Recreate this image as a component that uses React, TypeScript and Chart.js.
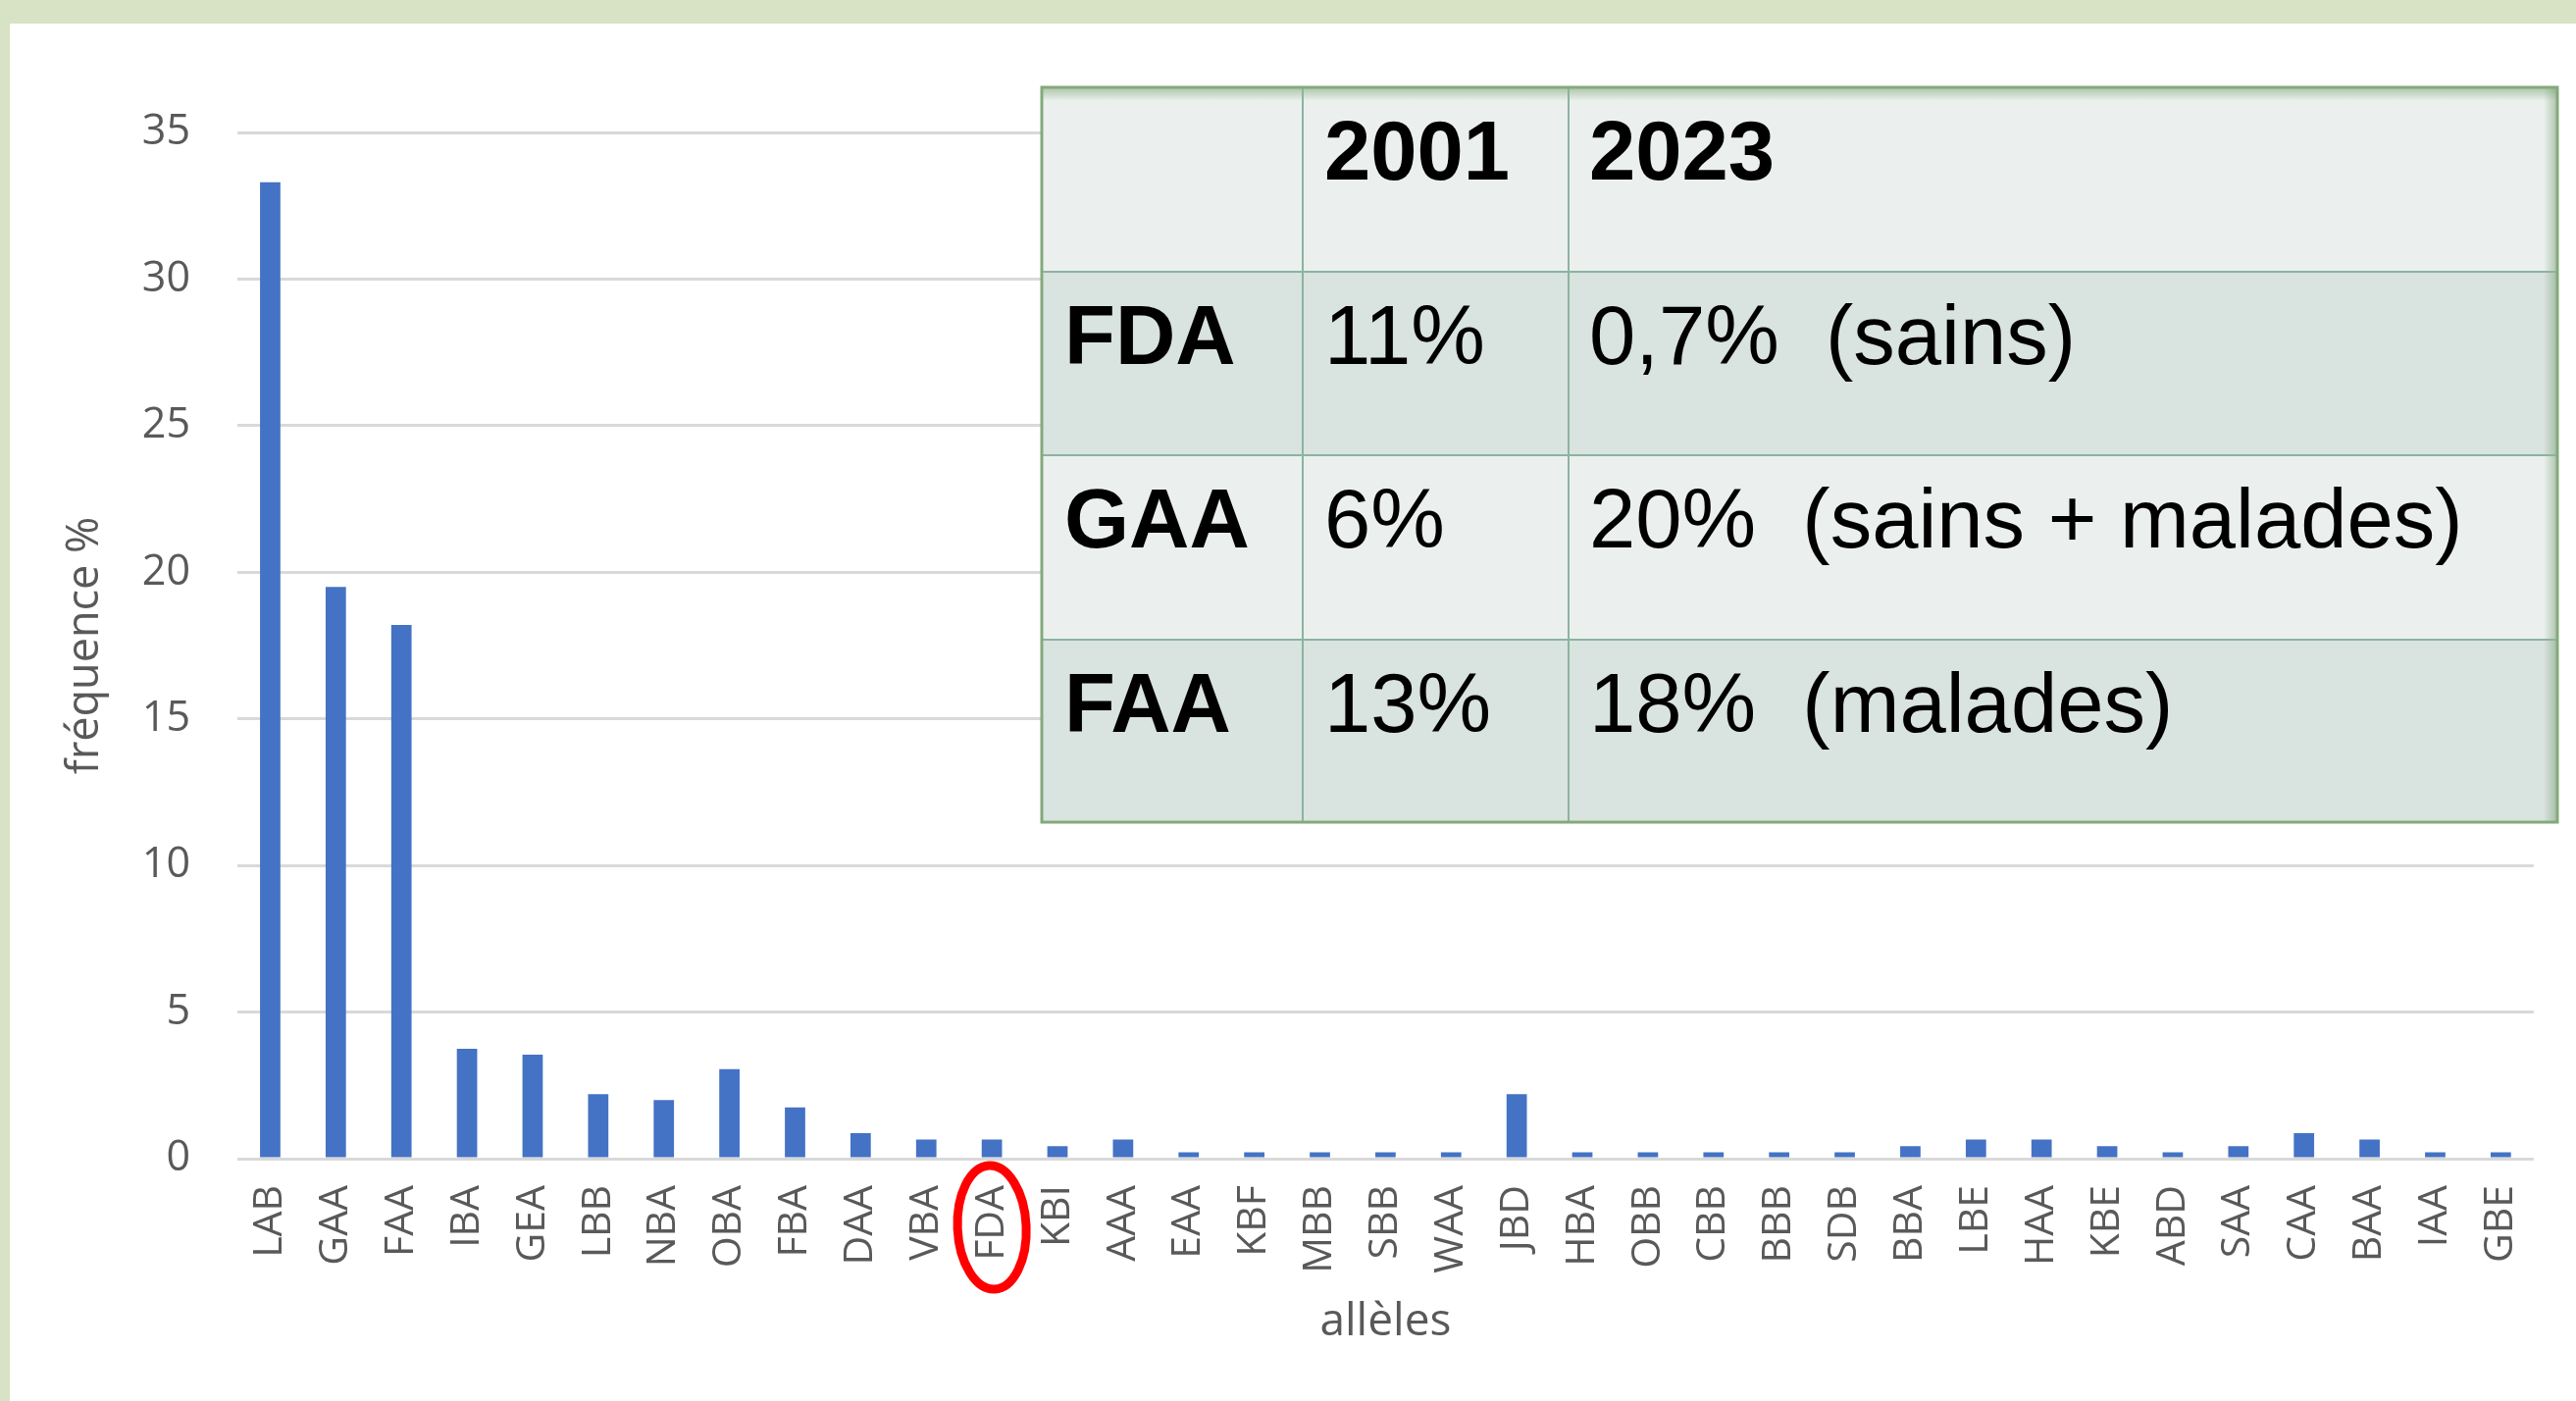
import React, { useEffect, useRef } from 'react';
import { Chart, registerables } from 'chart.js';

Chart.register(...registerables);

// ---- data ----
const categories = [
  'LAB', 'GAA', 'FAA', 'IBA', 'GEA', 'LBB', 'NBA', 'OBA', 'FBA', 'DAA',
  'VBA', 'FDA', 'KBI', 'AAA', 'EAA', 'KBF', 'MBB', 'SBB', 'WAA', 'JBD',
  'HBA', 'OBB', 'CBB', 'BBB', 'SDB', 'BBA', 'LBE', 'HAA', 'KBE', 'ABD',
  'SAA', 'CAA', 'BAA', 'IAA', 'GBE',
];
const frequencies = [
  33.3, 19.5, 18.2, 3.75, 3.55, 2.2, 2.0, 3.05, 1.75, 0.87,
  0.65, 0.65, 0.43, 0.65, 0.22, 0.22, 0.22, 0.22, 0.22, 2.2,
  0.22, 0.22, 0.22, 0.22, 0.22, 0.43, 0.65, 0.65, 0.43, 0.22,
  0.43, 0.87, 0.65, 0.22, 0.22,
];
const yMin = 0;
const yMax = 35;
const yStep = 5;
const xTitle = 'allèles';
const yTitle = 'fréquence %';
const highlighted = 'FDA';

const tableHeader = ['', '2001', '2023'];
const tableRowLabels = ['FDA', 'GAA', 'FAA'];
const table2001 = ['11%', '6%', '13%'];
const table2023 = ['0,7%  (sains)', '20%  (sains + malades)', '18%  (malades)'];

// ---- styles ----
const W = 2626;
const H = 1428;
const PAGE_GREEN = '#D8E2C4';
const BAR_BLUE = '#4472C4';
const GRID = '#D9D9D9';
const TEXT_GREY = '#595959';
const CHART_FONT = '"Open Sans", "Noto Sans", sans-serif';
const TABLE_FONT = '"Liberation Sans", Arial, sans-serif';

const backgroundPlugin = {
  id: 'pageBackground',
  beforeDraw(chart: any) {
    const ctx = chart.ctx;
    ctx.save();
    ctx.fillStyle = PAGE_GREEN;
    ctx.fillRect(0, 0, W, H);
    ctx.fillStyle = '#FFFFFF';
    ctx.fillRect(10, 24, W - 10, H - 24);
    ctx.restore();
  },
};

const overlayPlugin = {
  id: 'overlay',
  afterDraw(chart: any) {
    const ctx = chart.ctx;
    ctx.save();

    // red ellipse around the highlighted allele label
    const xs = chart.scales.x;
    const idx = categories.indexOf(highlighted);
    const cx = xs.getPixelForValue(idx);
    ctx.strokeStyle = '#FF0000';
    ctx.lineWidth = 9;
    ctx.beginPath();
    ctx.ellipse(cx, 1251, 35, 63, -0.045, 0, Math.PI * 2);
    ctx.stroke();

    // table
    const ty = 89;
    const colX = [1062, 1328, 1599, 2607];
    const rowY = [89, 277, 464, 652, 838];
    const fills = ['#EBF0EE', '#D9E3DF', '#EBF0EE', '#D9E3DF'];
    for (let r = 0; r < 4; r++) {
      ctx.fillStyle = fills[r];
      ctx.fillRect(colX[0], rowY[r], colX[3] - colX[0], rowY[r + 1] - rowY[r]);
    }
    // soft inner shadow along top and right edges
    let g = ctx.createLinearGradient(0, ty, 0, ty + 14);
    g.addColorStop(0, 'rgba(120,160,110,0.55)');
    g.addColorStop(1, 'rgba(120,160,110,0)');
    ctx.fillStyle = g;
    ctx.fillRect(colX[0], ty, colX[3] - colX[0], 14);
    g = ctx.createLinearGradient(colX[3], 0, colX[3] - 14, 0);
    g.addColorStop(0, 'rgba(120,160,110,0.55)');
    g.addColorStop(1, 'rgba(120,160,110,0)');
    ctx.fillStyle = g;
    ctx.fillRect(colX[3] - 14, ty, 14, rowY[4] - ty);

    // inner lines
    ctx.strokeStyle = '#8CB3A0';
    ctx.lineWidth = 2;
    ctx.beginPath();
    for (let r = 1; r < 4; r++) {
      ctx.moveTo(colX[0], rowY[r]);
      ctx.lineTo(colX[3], rowY[r]);
    }
    for (let c = 1; c < 3; c++) {
      ctx.moveTo(colX[c], rowY[0]);
      ctx.lineTo(colX[c], rowY[4]);
    }
    ctx.stroke();
    // outer border
    ctx.strokeStyle = '#84A97C';
    ctx.lineWidth = 3;
    ctx.strokeRect(colX[0], rowY[0], colX[3] - colX[0], rowY[4] - rowY[0]);

    // text
    ctx.fillStyle = '#000000';
    ctx.textBaseline = 'alphabetic';
    ctx.textAlign = 'left';
    const pad = [23, 22, 21];
    const baseOff = 94;
    ctx.font = `bold 85px ${TABLE_FONT}`;
    ctx.fillText(tableHeader[1], colX[1] + pad[1], rowY[0] + baseOff);
    ctx.fillText(tableHeader[2], colX[2] + pad[2], rowY[0] + baseOff);
    for (let r = 0; r < tableRowLabels.length; r++) {
      const by = rowY[r + 1] + baseOff;
      ctx.font = `bold 85px ${TABLE_FONT}`;
      ctx.fillText(tableRowLabels[r], colX[0] + pad[0], by);
      ctx.font = `85px ${TABLE_FONT}`;
      ctx.fillText(table2001[r], colX[1] + pad[1], by);
      ctx.fillText(table2023[r], colX[2] + pad[2], by);
    }
    ctx.restore();
  },
};

export default function App() {
  const canvasRef = useRef<HTMLCanvasElement | null>(null);

  useEffect(() => {
    if (!canvasRef.current) return;
    const chart = new Chart(canvasRef.current, {
      type: 'bar',
      data: {
        labels: categories,
        datasets: [
          {
            label: yTitle,
            data: frequencies,
            backgroundColor: BAR_BLUE,
            borderWidth: 0,
            categoryPercentage: 1,
            barPercentage: 0.31,
          },
        ],
      },
      options: {
        animation: false,
        responsive: true,
        maintainAspectRatio: false,
        devicePixelRatio: 1,
        layout: { padding: { top: 135, right: 32, left: 0, bottom: 0 } },
        plugins: {
          legend: { display: false },
          tooltip: { enabled: false },
          title: { display: false },
        },
        scales: {
          x: {
            grid: { display: false, drawTicks: false },
            border: { display: false },
            ticks: {
              autoSkip: false,
              minRotation: 90,
              maxRotation: 90,
              padding: 27,
              color: TEXT_GREY,
              font: { family: CHART_FONT, size: 41 },
            },
            title: {
              display: true,
              text: xTitle,
              color: TEXT_GREY,
              font: { family: CHART_FONT, size: 46 },
              padding: { top: 0, bottom: 53 },
            },
            afterFit: (axis: any) => {
              axis.height = 247;
            },
          },
          y: {
            min: yMin,
            max: yMax,
            ticks: {
              stepSize: yStep,
              padding: 48,
              color: TEXT_GREY,
              font: { family: CHART_FONT, size: 43 },
            },
            grid: { color: GRID, lineWidth: 3, drawTicks: false },
            border: { display: false },
            title: {
              display: true,
              text: yTitle,
              color: TEXT_GREY,
              font: { family: CHART_FONT, size: 45 },
              padding: { top: 60, bottom: 0 },
            },
            afterFit: (axis: any) => {
              axis.width = 242;
            },
          },
        },
      },
      plugins: [backgroundPlugin, overlayPlugin],
    });
    return () => chart.destroy();
  }, []);

  return (
    <div style={{ position: 'absolute', left: 0, top: 0, width: W, height: H }}>
      <canvas ref={canvasRef} />
    </div>
  );
}
